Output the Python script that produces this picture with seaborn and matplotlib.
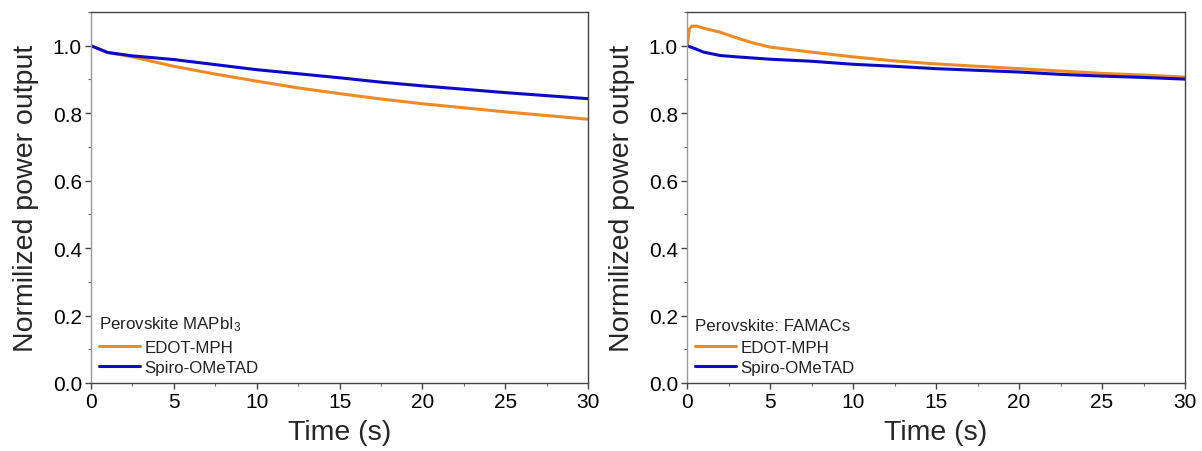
import numpy as np
import pandas as pd
import matplotlib
matplotlib.use("Agg")
import matplotlib.pyplot as plt
import seaborn as sns
from matplotlib.ticker import MultipleLocator

sns.set_theme(style="ticks")
plt.rcParams['font.family'] = ['Liberation Sans', 'DejaVu Sans']
plt.rcParams['mathtext.fontset'] = 'custom'
plt.rcParams['mathtext.rm'] = 'Liberation Sans'
plt.rcParams['mathtext.it'] = 'Liberation Sans'

# ---- data ----
t_left = [0, 0.5, 1, 2.5, 5, 7.5, 10, 12.5, 15, 17.5, 20, 22.5, 25, 27.5, 30]
edot_left = [1.0, 0.99, 0.980, 0.967, 0.939, 0.916, 0.895, 0.875, 0.858, 0.842, 0.828, 0.816, 0.804, 0.793, 0.782]
spiro_left = [1.0, 0.99, 0.980, 0.970, 0.959, 0.944, 0.929, 0.917, 0.905, 0.892, 0.881, 0.871, 0.861, 0.852, 0.843]

t_edot_right = [0, 0.05, 0.15, 0.3, 0.6, 1, 2, 3, 4, 5, 7.5, 10, 12.5, 15, 17.5, 20, 22.5, 25, 27.5, 30]
edot_right = [1.0, 1.012, 1.05, 1.058, 1.058, 1.052, 1.04, 1.023, 1.008, 0.996, 0.981, 0.967, 0.955, 0.946, 0.939, 0.932, 0.925, 0.918, 0.913, 0.907]
t_spiro_right = [0, 0.5, 1, 2, 3, 5, 7.5, 10, 12.5, 15, 17.5, 20, 22.5, 25, 27.5, 30]
spiro_right = [1.0, 0.991, 0.981, 0.971, 0.967, 0.960, 0.954, 0.945, 0.939, 0.932, 0.927, 0.922, 0.915, 0.910, 0.906, 0.901]

series = ["EDOT-MPH", "Spiro-OMeTAD"]
titles = ["Perovskite MAPbI$_3$", "Perovskite: FAMACs"]
y_ticks = [0, 0.2, 0.4, 0.6, 0.8, 1.0]
y_ticklabels = ["0.0", "0.2", "0.4", "0.6", "0.8", "1.0"]
colors = {"EDOT-MPH": "#F08A24", "Spiro-OMeTAD": "#0A0AC8"}

df_left = pd.concat([
    pd.DataFrame({"Time": t_left, "Power": edot_left, "Device": series[0]}),
    pd.DataFrame({"Time": t_left, "Power": spiro_left, "Device": series[1]}),
])
df_right = pd.concat([
    pd.DataFrame({"Time": t_edot_right, "Power": edot_right, "Device": series[0]}),
    pd.DataFrame({"Time": t_spiro_right, "Power": spiro_right, "Device": series[1]}),
])

fig = plt.figure(figsize=(12.02, 4.52), dpi=100)
ax1 = fig.add_axes([91/1202, 1-384/452, (588-91)/1202, (384-13)/452])
ax2 = fig.add_axes([687/1202, 1-384/452, (1185-687)/1202, (384-13)/452])

for ax, df, title in [(ax1, df_left, titles[0]), (ax2, df_right, titles[1])]:
    sns.lineplot(data=df, x="Time", y="Power", hue="Device", hue_order=series,
                 palette=colors, linewidth=2.2, ax=ax, sort=True, estimator=None)
    ax.set_xlim(0, 30)
    ax.set_ylim(0, 1.1)
    ax.xaxis.set_major_locator(MultipleLocator(5))
    ax.xaxis.set_minor_locator(MultipleLocator(2.5))
    ax.yaxis.set_minor_locator(MultipleLocator(0.1))
    ax.set_yticks(y_ticks)
    ax.set_yticklabels(y_ticklabels)
    ax.tick_params(axis="both", which="major", direction="out", length=4.5, width=1,
                   labelsize=15, colors="#444444", labelcolor="black", pad=2)
    ax.tick_params(axis="both", which="minor", direction="out", length=2.5, width=0.8,
                   colors="#666666")
    for s in ax.spines.values():
        s.set_visible(True)
        s.set_color("#444444")
        s.set_linewidth(1.0)
    ax.spines["left"].set_color("#999999")
    ax.set_xlabel("Time (s)", fontsize=20.5, labelpad=6)
    ax.set_ylabel("Normilized power output", fontsize=20.5, labelpad=10)
    leg = ax.legend(title=title, loc="lower left", frameon=False, fontsize=12.2,
                    title_fontsize=12.2, handlelength=2.4, handletextpad=0.25,
                    labelspacing=0.25, borderaxespad=0.2, borderpad=0.3)
    leg._legend_box.align = "left"
    leg._legend_box.sep = 5
    for t in leg.get_texts():
        t.set_color("#222222")
    leg.get_title().set_color("#222222")
    for line in leg.get_lines():
        line.set_linewidth(2.2)

fig.savefig("out.png", dpi=100, facecolor="white")
